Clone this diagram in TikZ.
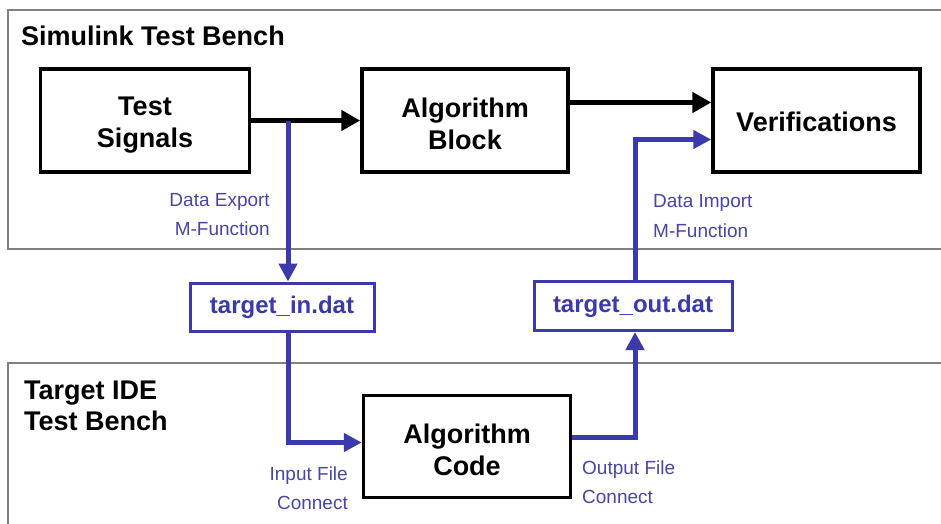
\documentclass[tikz,border=0pt]{standalone}
\usepackage{fontspec}
\setmainfont{Liberation Sans}
\usetikzlibrary{arrows.meta}
\definecolor{panelgray}{RGB}{128,128,128}
\definecolor{lineblue}{RGB}{58,58,172}
\definecolor{textblue}{RGB}{70,70,170}
\newcommand\topstrut{\rule{0pt}{27pt}}
\tikzset{
  panel/.style={draw=panelgray, line width=2pt},
  paneltitle/.style={anchor=west, align=left, font=\fontsize{27}{31}\selectfont\bfseries, inner sep=0pt},
  block/.style={draw=black, line width=3.5pt, align=center, font=\fontsize{27}{32}\selectfont\bfseries, inner sep=0pt},
  filebox/.style={draw=lineblue, line width=3pt, text=lineblue, font=\fontsize{24}{28}\selectfont\bfseries, inner sep=0pt},
  blackflow/.style={draw=black, line width=5pt, -{Triangle[length=19pt,width=20pt]}},
  blueflow/.style={draw=lineblue, line width=5pt, -{Triangle[length=18pt,width=18pt]}},
  bluenote/.style={text=textblue, font=\fontsize{19}{28}\selectfont, inner sep=0pt},
}
\begin{document}
\begin{tikzpicture}[x=1pt,y=-1pt]
\clip (0,0) rectangle (941,523);
\fill[white] (0,0) rectangle (941,523);
% panels
\draw[panel] (8,10) rectangle (960,249);
\draw[panel] (8,363) rectangle (960,540);
\node[paneltitle] (t1) at (21,36) {Simulink Test Bench};
\node[paneltitle] (t2) at (24,406) {Target IDE\\Test Bench};
% blocks
\node[block, minimum width=209pt, minimum height=103pt] (ts) at (145,120.5) {\topstrut Test\\Signals};
\node[block, minimum width=206pt, minimum height=103pt] (ab) at (465,120.5) {\topstrut Algorithm\\Block};
\node[block, minimum width=207pt, minimum height=103pt] (ver) at (816.5,120.5) {\rule{0pt}{23pt}Verifications};
\node[block, minimum width=207pt, minimum height=102pt] (ac) at (467,446.5) {\topstrut Algorithm\\Code};
% files
\node[filebox, minimum width=184pt, minimum height=48pt] (tin) at (282,307) {target\_in.dat};
\node[filebox, minimum width=198pt, minimum height=49pt] (tout) at (633,306) {target\_out.dat};
% black connectors
\coordinate (br) at (288,120.5);
\draw[blackflow] (ts.east) -- (ab.west);
\draw[blackflow] ([yshift=18pt]ab.east) -- ([yshift=18pt]ab.east -| ver.west);
% blue connectors
\draw[blueflow] (br) -- (br |- tin.north);
\draw[blueflow] (br |- tin.south) |- ([yshift=4pt]ac.west);
\draw[blueflow] ([yshift=9pt]ac.east) -| ([xshift=2pt]tout.south);
\draw[blueflow] ([xshift=2pt]tout.north) |- ([yshift=-19pt]ver.west);
% notes
\node[bluenote, anchor=east] (n1) at (270,202) {Data Export};
\node[bluenote, anchor=east] (n2) at (270,229) {M-Function};
\node[bluenote, anchor=west] (n3) at (653,203) {Data Import};
\node[bluenote, anchor=west] (n4) at (653,231) {M-Function};
\node[bluenote, anchor=east] (n5) at (348,476) {Input File};
\node[bluenote, anchor=east] (n6) at (348,503) {Connect};
\node[bluenote, anchor=west] (n7) at (582,470) {Output File};
\node[bluenote, anchor=west] (n8) at (582,497) {Connect};
\end{tikzpicture}
\end{document}
